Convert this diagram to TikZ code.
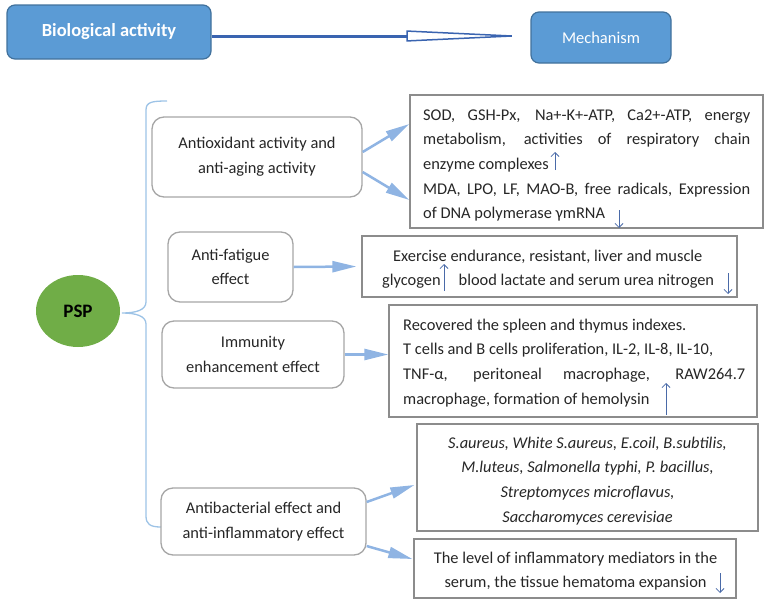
\documentclass[tikz,border=0pt]{standalone}
\usepackage{fontspec}
\setmainfont{Carlito}
\usetikzlibrary{arrows.meta,shapes.geometric}
\definecolor{boxblue}{HTML}{5B9BD5}
\definecolor{boxblueedge}{HTML}{41719C}
\definecolor{arrowdark}{HTML}{3A64B0}
\definecolor{conncol}{HTML}{8FB4E3}
\definecolor{bracec}{HTML}{9DC3E6}
\definecolor{pspgreen}{HTML}{70AD47}
\definecolor{lgray}{HTML}{A6A6A6}
\definecolor{dgray}{HTML}{8C8C8C}
\definecolor{txt}{HTML}{262626}
\definecolor{markc}{HTML}{4A6AA8}
\newcommand\bodyfont{\fontsize{16.4}{24.7}\selectfont}
\begin{document}
\begin{tikzpicture}[x=1pt,y=-1pt,
  bluebox/.style={draw=boxblueedge,fill=boxblue,rounded corners=8pt,line width=1.2pt,text=white,inner sep=0pt},
  sbox/.style={draw=lgray,rounded corners=12pt,line width=1.3pt,align=center,text=txt,font=\bodyfont,inner sep=0pt},
  rbox/.style={draw=dgray,line width=1.3pt,inner sep=0pt},
  ln/.style={anchor=base west,inner sep=0pt,text=txt,font=\bodyfont},
  lnc/.style={anchor=base,inner sep=0pt,text=txt,font=\bodyfont\itshape},
  lnm/.style={anchor=base,inner sep=0pt,text=txt,font=\bodyfont},
  link/.style={draw=conncol,line width=2.5pt,-{Triangle[length=24pt,width=11pt]}},
  markarr/.style={draw=markc,line width=0.8pt,-{Straight Barb[length=4pt,width=8pt]}}
]
\useasboundingbox (0,0) rectangle (768,605);

% top boxes
\node[bluebox,minimum width=204pt,minimum height=54pt,font=\fontsize{18.5}{22}\selectfont\bfseries] (bio) at (109,32) {Biological activity};
\node[bluebox,minimum width=140pt,minimum height=51pt,font=\fontsize{16.5}{20}\selectfont] (mech) at (601,37.5) {Mechanism};
\draw[draw=arrowdark,line width=3pt,-{Triangle[open,length=122pt,width=11pt,line width=1.5pt]}]
  ([yshift=-4pt]bio.east) -- ([xshift=-2pt,yshift=1.5pt]mech.west);

% PSP and brace
\node[ellipse,fill=pspgreen,minimum width=84pt,minimum height=72pt,inner sep=0pt,font=\fontsize{19}{22}\selectfont\bfseries,text=black] (psp) at (78,311) {PSP};
\coordinate (tip) at (122,313);
\draw[bracec,line width=1.3pt] (167,101) .. controls (152,101) and (146,102) .. (146,110) -- (146,302)
  .. controls (146,310) and (136,313) .. (tip)
  .. controls (136,313) and (146,316) .. (146,324) -- (146,516)
  .. controls (146,524) and (150,527) .. (161,527);

% left activity boxes
\node[sbox,minimum width=210pt,minimum height=80pt] (antiox) at (257,157) {Antioxidant activity and\\anti-aging activity};
\node[sbox,minimum width=125pt,minimum height=70pt] (fatigue) at (230.5,267) {Anti-fatigue\\effect};
\node[sbox,minimum width=182pt,minimum height=67pt] (immun) at (253,354.5) {Immunity\\enhancement effect};
\node[sbox,minimum width=205pt,minimum height=67pt] (antib) at (263.5,521.5) {Antibacterial effect and\\anti-inflammatory effect};

% right mechanism boxes
\node[rbox,minimum width=353pt,minimum height=133pt] (b1) at (586.5,161.5) {};
\node[rbox,minimum width=375pt,minimum height=61pt] (b2) at (549.5,266.5) {};
\node[rbox,minimum width=368pt,minimum height=112pt] (b3) at (573,361) {};
\node[rbox,minimum width=341pt,minimum height=107pt] (b4) at (587.5,477.5) {};
\node[rbox,minimum width=322pt,minimum height=59pt] (b5) at (575,568.5) {};

% connectors
\draw[link] ([yshift=5pt]antiox.east) -- ([yshift=37.5pt]b1.west);
\draw[link] ([yshift=-15pt]antiox.east) -- ([yshift=-38.5pt]b1.west);
\draw[link] (fatigue.east) -- ([xshift=-5pt]b2.west);
\draw[link] (immun.east) -- (immun.east -| b3.west);
\draw[link] ([yshift=19.5pt]antib.east) -- ([xshift=-2pt,yshift=-7.5pt]b4.west);
\draw[link] ([yshift=-24.5pt]antib.east) -- ([xshift=-1pt,yshift=9.5pt]b5.west);

% box 1 text
\node[ln] (t11) at (423,120) {\makebox[327pt][s]{SOD, GSH-Px, Na+-K+-ATP, Ca2+-ATP, energy}};
\node[ln] (t12) at (423,144.7) {\makebox[327pt][s]{metabolism, activities of respiratory chain}};
\node[ln] (t13) at (423,169.4) {enzyme complexes};
\node[ln] (t14) at (423,194.1) {\makebox[327pt][s]{MDA, LPO, LF, MAO-B, free radicals, Expression}};
\node[ln] (t15) at (423,218.8) {of DNA polymerase γmRNA};
\coordinate (m1a) at (555,170); \coordinate (m1b) at (555,152);
\draw[markarr] (m1a) -- (m1b);
\coordinate (m2a) at (619,210); \coordinate (m2b) at (619,228);
\draw[markarr] (m2a) -- (m2b);

% box 2 text
\node[ln] (t21) at (393,261) {Exercise endurance, resistant, liver and muscle};
\node[ln] (t22) at (382,285.5) {glycogen\hspace{18pt}blood lactate and serum urea nitrogen};
\coordinate (m3a) at (444,291); \coordinate (m3b) at (444,264);
\draw[markarr] (m3a) -- (m3b);
\coordinate (m4a) at (728,273); \coordinate (m4b) at (728,294);
\draw[markarr] (m4a) -- (m4b);

% box 3 text
\node[ln] (t31) at (403,330) {Recovered the spleen and thymus indexes.};
\node[ln] (t32) at (403,354.7) {T cells and B cells proliferation, IL-2, IL-8, IL-10,};
\node[ln] (t33) at (403,379.4) {\makebox[342pt][s]{TNF-α, peritoneal macrophage, RAW264.7}};
\node[ln] (t34) at (403,404.1) {macrophage, formation of hemolysin};
\coordinate (m5a) at (666,415); \coordinate (m5b) at (666,383);
\draw[markarr] (m5a) -- (m5b);

% box 4 text
\node[lnc] (t41) at (587.5,448) {S.aureus, White S.aureus, E.coil, B.subtilis,};
\node[lnc] (t42) at (587.5,472.7) {M.luteus, Salmonella typhi, P. bacillus,};
\node[lnc] (t43) at (587.5,497.4) {Streptomyces microflavus,};
\node[lnc] (t44) at (587.5,522.1) {Saccharomyces cerevisiae};

% box 5 text
\node[lnm] (t51) at (575.5,563) {The level of inflammatory mediators in the};
\node[lnm] (t52) at (575.5,587.7) {serum, the tissue hematoma expansion};
\coordinate (m6a) at (720,573); \coordinate (m6b) at (720,593);
\draw[markarr] (m6a) -- (m6b);
\end{tikzpicture}
\end{document}
